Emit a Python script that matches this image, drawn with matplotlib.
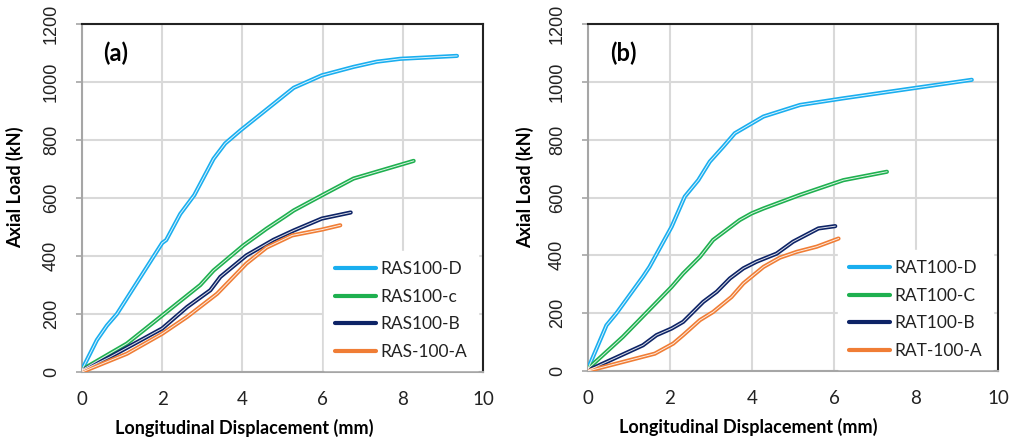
import matplotlib
matplotlib.use("Agg")
import matplotlib.pyplot as plt

# panel (a) - RAS series
ras_d_x = [0, 0.37, 0.62, 0.87, 2.0, 2.1, 2.45, 2.8, 3.28, 3.57, 3.95, 5.28, 5.98, 6.77, 7.35, 7.94, 9.35]
ras_d_y = [8, 110, 160, 200, 445, 455, 545, 610, 735, 788, 833, 980, 1023, 1052, 1070, 1080, 1090]
ras_c_x = [0, 1.12, 2.0, 2.95, 3.28, 4.03, 4.6, 5.1, 5.28, 5.98, 6.77, 8.27]
ras_c_y = [8, 98, 195, 300, 350, 437, 494, 540, 557, 609, 667, 728]
ras_b_x = [0, 0.7, 2.0, 2.62, 3.2, 3.45, 4.1, 4.78, 5.28, 5.98, 6.7]
ras_b_y = [5, 52, 150, 224, 282, 328, 402, 456, 488, 529, 550]
ras_a_x = [0, 1.12, 2.0, 2.62, 3.37, 4.1, 4.6, 5.24, 5.98, 6.44]
ras_a_y = [0, 63, 132, 190, 270, 374, 429, 471, 491, 506]

# panel (b) - RAT series
rat_d_x = [0, 0.45, 0.69, 1.34, 1.5, 2.04, 2.36, 2.69, 2.97, 3.3, 3.58, 4.28, 5.17, 6.23, 9.36]
rat_d_y = [8, 158, 199, 326, 360, 499, 603, 660, 724, 776, 822, 880, 920, 943, 1007]
rat_c_x = [0, 0.85, 2.04, 2.32, 2.73, 3.05, 3.7, 3.99, 4.28, 5.17, 6.23, 7.29]
rat_c_y = [8, 118, 291, 337, 395, 453, 522, 545, 562, 609, 660, 689]
rat_b_x = [0, 1.34, 1.67, 2.04, 2.32, 2.81, 3.14, 3.46, 3.79, 4.11, 4.6, 5.0, 5.62, 6.03]
rat_b_y = [2, 89, 124, 147, 170, 239, 274, 320, 355, 378, 406, 447, 493, 501]
rat_a_x = [0, 1.63, 2.08, 2.32, 2.73, 3.05, 3.5, 3.79, 4.28, 4.68, 5.09, 5.58, 6.11]
rat_a_y = [0, 60, 95, 124, 176, 204, 256, 303, 360, 392, 412, 430, 458]

labels_a = ["RAS100-D", "RAS100-c", "RAS100-B", "RAS-100-A"]
labels_b = ["RAT100-D", "RAT100-C", "RAT100-B", "RAT-100-A"]
colors = ["#19aeef", "#1eb04f", "#0d2366", "#f07d35"]

x_ticks = [0, 2, 4, 6, 8, 10]
y_ticks = [0, 200, 400, 600, 800, 1000, 1200]

label_font = "Lato"


def draw_panel(ax, series, labels, tag, xlab_pos, ylab_pos):
    for (xs, ys), lab, col in zip(series, labels, colors):
        ax.plot(xs, ys, color=col, lw=3.0, solid_capstyle="round", label=lab, zorder=3)
        ax.plot(xs, ys, color="white", lw=0.7, alpha=0.85, zorder=4)
    ax.set_xlim(0, 10)
    ax.set_ylim(0, 1200)
    ax.set_xticks(x_ticks)
    ax.set_yticks(y_ticks)
    ax.grid(True, color="#d9d9d9", lw=1.5)
    ax.set_axisbelow(True)
    for s in ["top", "right"]:
        ax.spines[s].set_color("#222222")
        ax.spines[s].set_linewidth(1.5)
    for s in ["left", "bottom"]:
        ax.spines[s].set_color("#a6a6a6")
        ax.spines[s].set_linewidth(1.5)
    ax.tick_params(axis="y", length=4, color="#a6a6a6", width=1.2, pad=12)
    ax.tick_params(axis="x", length=0, pad=14)
    for t in ax.get_yticklabels():
        t.set_rotation(90)
        t.set_va("center")
        t.set_family("Liberation Sans")
        t.set_fontsize(13)
        t.set_color("#222222")
    for t in ax.get_xticklabels():
        t.set_family(label_font)
        t.set_fontsize(13.5)
        t.set_color("#222222")
    ax.set_xlabel("Longitudinal Displacement (mm)", family=label_font, fontsize=13,
                  fontweight="bold")
    ax.set_ylabel("Axial Load (kN)", family=label_font, fontsize=13, fontweight="bold")
    ax.xaxis.set_label_coords(xlab_pos, -0.161)
    ax.yaxis.set_label_coords(ylab_pos, 0.53)
    ax.xaxis.label.set_va("center")
    ax.yaxis.label.set_va("center")
    ax.text(0.053, 0.915, tag, transform=ax.transAxes, family=label_font, fontsize=17,
            fontweight="bold", va="center", ha="left")
    leg = ax.legend(loc="lower right", bbox_to_anchor=(1.0, -0.01), frameon=True,
                    fancybox=False, framealpha=1, edgecolor="white", handlelength=2.4,
                    handletextpad=0.25, labelspacing=0.67, borderaxespad=0.3,
                    borderpad=0.6, prop={"family": label_font, "size": 12.5})
    for h in leg.get_lines():
        h.set_linewidth(3.0)
    for t in leg.get_texts():
        t.set_color("#222222")


fig = plt.figure(figsize=(10.15, 4.42), dpi=100)
ax1 = fig.add_axes([82 / 1015, 1 - 372 / 442, 401 / 1015, 348 / 442])
ax2 = fig.add_axes([588 / 1015, 1 - 371 / 442, 410 / 1015, 347 / 442])

draw_panel(ax1, [(ras_d_x, ras_d_y), (ras_c_x, ras_c_y), (ras_b_x, ras_b_y), (ras_a_x, ras_a_y)],
           labels_a, "(a)", (244 - 82) / 401, (15 - 82) / 401)
draw_panel(ax2, [(rat_d_x, rat_d_y), (rat_c_x, rat_c_y), (rat_b_x, rat_b_y), (rat_a_x, rat_a_y)],
           labels_b, "(b)", (748 - 588) / 410, (525 - 588) / 410)

fig.savefig("out.png", dpi=100, facecolor="white")
